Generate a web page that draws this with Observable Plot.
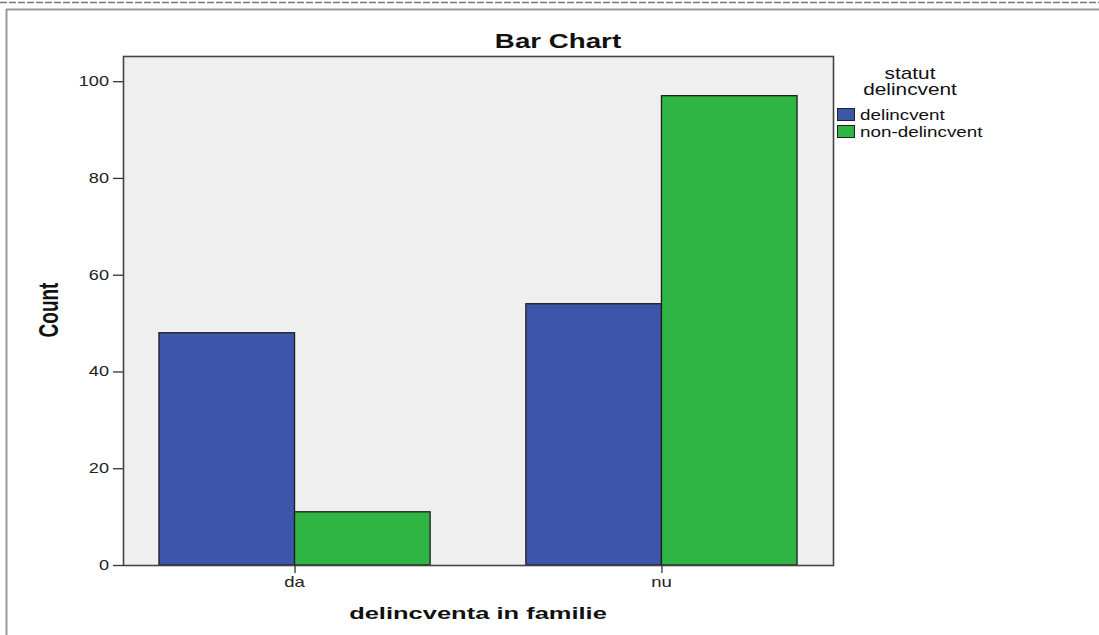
<!DOCTYPE html>
<html>
<head>
<meta charset="utf-8">
<script src="https://cdn.jsdelivr.net/npm/d3@7"></script>
<script src="https://cdn.jsdelivr.net/npm/@observablehq/plot@0.6"></script>
<style>
  html, body { margin: 0; padding: 0; background: #ffffff; }
  #chart { position: relative; width: 1099px; height: 635px; font-family: "Liberation Sans", Arial, sans-serif; }
</style>
</head>
<body>
<div id="chart"></div>
<script>
// ---- data ----
const categories = ["da", "nu"];
const seriesNames = ["delincvent", "non-delincvent"];
const delincventCounts = [48, 54];
const nonDelincventCounts = [11, 97];
const yTicks = [0, 20, 40, 60, 80, 100];
const seriesColors = ["#3e56a9", "#2eb544"];
const titleText = "Bar Chart";
const xLabel = "delincventa in familie";
const yLabel = "Count";
const legendTitle = ["statut", "delincvent"];

const rows = [];
categories.forEach((c, i) => {
  rows.push({cat: c, series: seriesNames[0], value: delincventCounts[i]});
  rows.push({cat: c, series: seriesNames[1], value: nonDelincventCounts[i]});
});

// ---- layout ----
const W = 1099, H = 635;
const mL = 123, mR = 266, mT = 56, mB = 70;
const padIn = 0.261, padOut = 0.098;
const innerW = W - mL - mR;
const step = innerW / (categories.length - padIn + 2 * padOut);
const half = step * (1 - padIn) / 2;

const chart = Plot.plot({
  width: W, height: H,
  marginLeft: mL, marginRight: mR, marginTop: mT, marginBottom: mB,
  style: {fontFamily: "'Liberation Sans', Arial, sans-serif", color: "#222", background: "transparent"},
  x: {domain: categories, paddingInner: padIn, paddingOuter: padOut, round: false, label: null},
  y: {domain: [0, 105.2], label: null},
  color: {domain: seriesNames, range: seriesColors},
  marks: [
    Plot.frame({fill: "#efefef", stroke: "none"}),
    Plot.barY(rows.filter(d => d.series === seriesNames[0]), {
      x: "cat", y: "value", fill: "series", stroke: "#1e1e1e", strokeWidth: 1.3,
      insetLeft: 0, insetRight: half
    }),
    Plot.barY(rows.filter(d => d.series === seriesNames[1]), {
      x: "cat", y: "value", fill: "series", stroke: "#1e1e1e", strokeWidth: 1.3,
      insetLeft: half, insetRight: 0
    }),
    Plot.frame({stroke: "#444", strokeWidth: 1.6}),
    Plot.axisY(yTicks, {tickSize: 10, tickPadding: 3, fontSize: 14.5, label: null, stroke: "#333", strokeWidth: 1.3, tickFormat: () => ""}),
    Plot.axisX({tickSize: 8, tickPadding: 3, fontSize: 14.5, label: null, stroke: "#333", strokeWidth: 1.3, tickFormat: () => ""})
  ]
});
document.getElementById("chart").appendChild(chart);

const svg = d3.select(chart);
const font = "'Liberation Sans', Arial, sans-serif";

// positions from the plot's own scales
const xs = chart.scale("x"), ys = chart.scale("y");
const xPos = c => {
  if (xs.apply) return xs.apply(c) + (xs.bandwidth || 0) / 2;
  const s = d3.scaleBand(xs.domain, xs.range).paddingInner(padIn).paddingOuter(padOut);
  return s(c) + s.bandwidth() / 2;
};
const yPos = v => ys.apply ? ys.apply(v) : d3.scaleLinear(ys.domain, ys.range)(v);

// tick labels (stretched horizontally like the reference)
yTicks.forEach(v => {
  svg.append("text").text(String(v))
    .attr("transform", `translate(${mL - 14},${yPos(v) + 5}) scale(1.25,1)`)
    .attr("text-anchor", "end").attr("font-family", font).attr("font-size", 14.5).attr("fill", "#222");
});
categories.forEach(c => {
  svg.append("text").text(c)
    .attr("transform", `translate(${xPos(c)},${H - mB + 22}) scale(1.28,1)`)
    .attr("text-anchor", "middle").attr("font-family", font).attr("font-size", 14.5).attr("fill", "#222");
});

// outer border
svg.append("line").attr("x1", 0).attr("x2", W).attr("y1", 2.5).attr("y2", 2.5)
  .attr("stroke", "#777").attr("stroke-width", 1.5).attr("stroke-dasharray", "7,2");
svg.append("line").attr("x1", 6).attr("x2", W).attr("y1", 9.5).attr("y2", 9.5)
  .attr("stroke", "#9a9a9a").attr("stroke-width", 2);
svg.append("line").attr("x1", 6.5).attr("x2", 6.5).attr("y1", 9).attr("y2", H)
  .attr("stroke", "#9a9a9a").attr("stroke-width", 2);

function addText(str, tx, ty, opts) {
  svg.append("text").text(str)
    .attr("transform", `translate(${tx},${ty}) ${opts.extra || ""}`)
    .attr("text-anchor", opts.anchor || "middle")
    .attr("font-family", font)
    .attr("font-size", opts.size)
    .attr("font-weight", opts.weight || "normal")
    .attr("fill", "#111");
}
// title & axis labels
addText(titleText, 558, 48, {size: 21, weight: "bold", extra: "scale(1.32,1)"});
addText(xLabel, 478, 619, {size: 17, weight: "bold", extra: "scale(1.5,1)"});
addText(yLabel, 58, 310, {size: 19, weight: "bold", extra: "scale(1.47,1) rotate(-90)"});

// legend
addText(legendTitle[0], 910, 79, {size: 16, extra: "scale(1.3,1)"});
addText(legendTitle[1], 910, 95, {size: 16, extra: "scale(1.3,1)"});
const legendY = [108, 125];
seriesNames.forEach((name, i) => {
  svg.append("rect").attr("x", 837.5).attr("y", legendY[i] + 0.5).attr("width", 17).attr("height", 12)
    .attr("fill", seriesColors[i]).attr("stroke", "#222").attr("stroke-width", 1);
  addText(name, 860, legendY[i] + 12, {size: 14.5, anchor: "start", extra: "scale(1.3,1)"});
});
</script>
</body>
</html>
